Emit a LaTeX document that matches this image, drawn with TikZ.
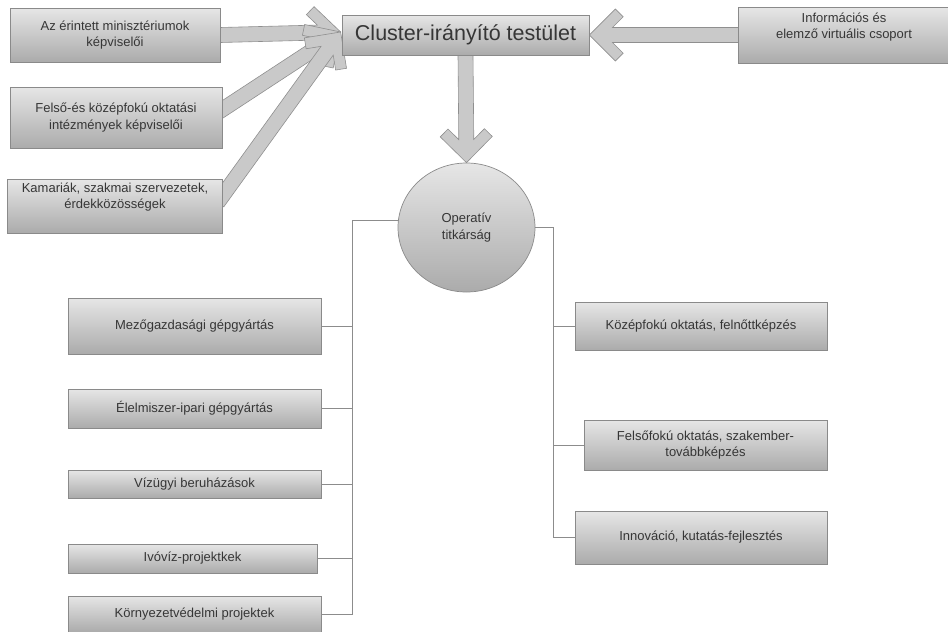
\documentclass[tikz,border=0pt]{standalone}
\usepackage{fontspec}
\setmainfont{Liberation Sans}
\usetikzlibrary{calc,shapes.geometric}
\pgfdeclarelayer{background}
\pgfsetlayers{background,main}
\definecolor{boxtop}{HTML}{E6E6E6}
\definecolor{boxbot}{HTML}{ABABAB}
\definecolor{boxline}{HTML}{8A8A8A}
\definecolor{arrfill}{HTML}{C9C9C9}
\definecolor{arrline}{HTML}{8F8F8F}
\definecolor{busline}{HTML}{8C8C8C}
\definecolor{txt}{HTML}{363636}
\newcommand\fatarrow[2]{%
\path[fatarr] let \p1=(#1), \p2=(#2), \n1={atan2(\y2-\y1,\x2-\x1)}, \n2={veclen(\x2-\x1,\y2-\y1)+8pt} in
 (\p2)
 -- ($(\p2)+(\n1+180:26pt)+(\n1+90:26pt)$)
 -- ($(\p2)+(\n1+180:33.8pt)+(\n1+90:18.2pt)$)
 -- ($(\p2)+(\n1+180:23.1pt)+(\n1+90:7.5pt)$)
 -- ($(\p2)+(\n1+180:\n2*1pt)+(\n1+90:7.5pt)$)
 -- ($(\p2)+(\n1+180:\n2*1pt)+(\n1-90:7.5pt)$)
 -- ($(\p2)+(\n1+180:23.1pt)+(\n1-90:7.5pt)$)
 -- ($(\p2)+(\n1+180:33.8pt)+(\n1-90:18.2pt)$)
 -- ($(\p2)+(\n1+180:26pt)+(\n1-90:26pt)$)
 -- cycle;}
\begin{document}
\begin{tikzpicture}[x=1pt,y=-1pt,
  box/.style={draw=boxline, line width=0.7pt, top color=boxtop, bottom color=boxbot,
    inner sep=0pt, align=center, text=txt, font=\fontsize{13}{16.5}\selectfont},
  boxtext/.style={inner sep=0pt, align=center, text=txt, font=\fontsize{13}{16.5}\selectfont},
  fatarr/.style={draw=arrline, line width=0.6pt, fill=arrfill, line join=miter},
  bus/.style={draw=busline, line width=0.8pt}]
\useasboundingbox (0,0) rectangle (948,632);
% top row
\node[box, minimum width=210, minimum height=54] (b1) at (115,35) {Az érintett minisztériumok\\képviselői};
\node[box, minimum width=212, minimum height=61] (b2) at (116,117.5) {Felső-és középfokú oktatási\\intézmények képviselői};
\node[box, minimum width=215, minimum height=54] (b3) at (114.5,206) {};
\node[boxtext] (b3t) at (115,197) {Kamariák, szakmai szervezetek,\\érdekközösségek};
\node[box, minimum width=247, minimum height=40, font=\fontsize{21.5}{24}\selectfont] (cl) at (465.5,35) {Cluster-irányító testület};
\node[box, minimum width=212, minimum height=56] (inf) at (844,35) {};
\node[boxtext] (inft) at (844,27) {Információs és\\elemző virtuális csoport};
% circle
\node[ellipse, draw=boxline, line width=0.7pt, top color=boxtop, bottom color=boxbot,
  minimum width=137, minimum height=129, inner sep=0pt, align=center, text=txt,
  font=\fontsize{13}{16.5}\selectfont] (op) at (466.5,227.5) {Operatív\\titkárság};
% left column
\node[box, minimum width=253, minimum height=56] (m1) at (194.5,326) {Mezőgazdasági gépgyártás};
\node[box, minimum width=253, minimum height=39] (m2) at (194.5,408.5) {Élelmiszer-ipari gépgyártás};
\node[box, minimum width=253, minimum height=28] (m3) at (194.5,484) {Vízügyi beruházások};
\node[box, minimum width=249, minimum height=29] (m4) at (192.5,558.5) {Ivóvíz-projektkek};
\node[box, minimum width=253, minimum height=36] (k5) at (194.5,614) {Környezetvédelmi projektek};
% right column
\node[box, minimum width=252, minimum height=48] (r1) at (701,326) {Középfokú oktatás, felnőttképzés};
\node[box, minimum width=243, minimum height=50] (r2) at (705.5,445) {Felsőfokú oktatás, szakember-\\továbbképzés};
\node[box, minimum width=252, minimum height=53] (r3) at (701,537.5) {Innováció, kutatás-fejlesztés};
% bus coordinates
\coordinate (lbus) at (352,0);
\coordinate (rbus) at (553,0);
\coordinate (tip) at ($(cl.west)+(-1,-3)$);
\begin{pgfonlayer}{background}
\fatarrow{b1.east}{tip}
\fatarrow{$(b2.east)+(0,-8)$}{tip}
\fatarrow{$(b3.east)+(0,-10)$}{tip}
\fatarrow{inf.west}{cl.east}
\fatarrow{cl.south}{op.north}
\end{pgfonlayer}
% connectors
\draw[bus] (op.174) -- (op.174 -| lbus) |- (k5.east);
\draw[bus] (m1.east) -- (m1.east -| lbus);
\draw[bus] (m2.east) -- (m2.east -| lbus);
\draw[bus] (m3.east) -- (m3.east -| lbus);
\draw[bus] (m4.east) -- (m4.east -| lbus);
\draw[bus] (op.east) -- (op.east -| rbus) |- (r3.west);
\draw[bus] (r1.west -| rbus) -- (r1.west);
\draw[bus] (r2.west -| rbus) -- (r2.west);
\end{tikzpicture}
\end{document}
